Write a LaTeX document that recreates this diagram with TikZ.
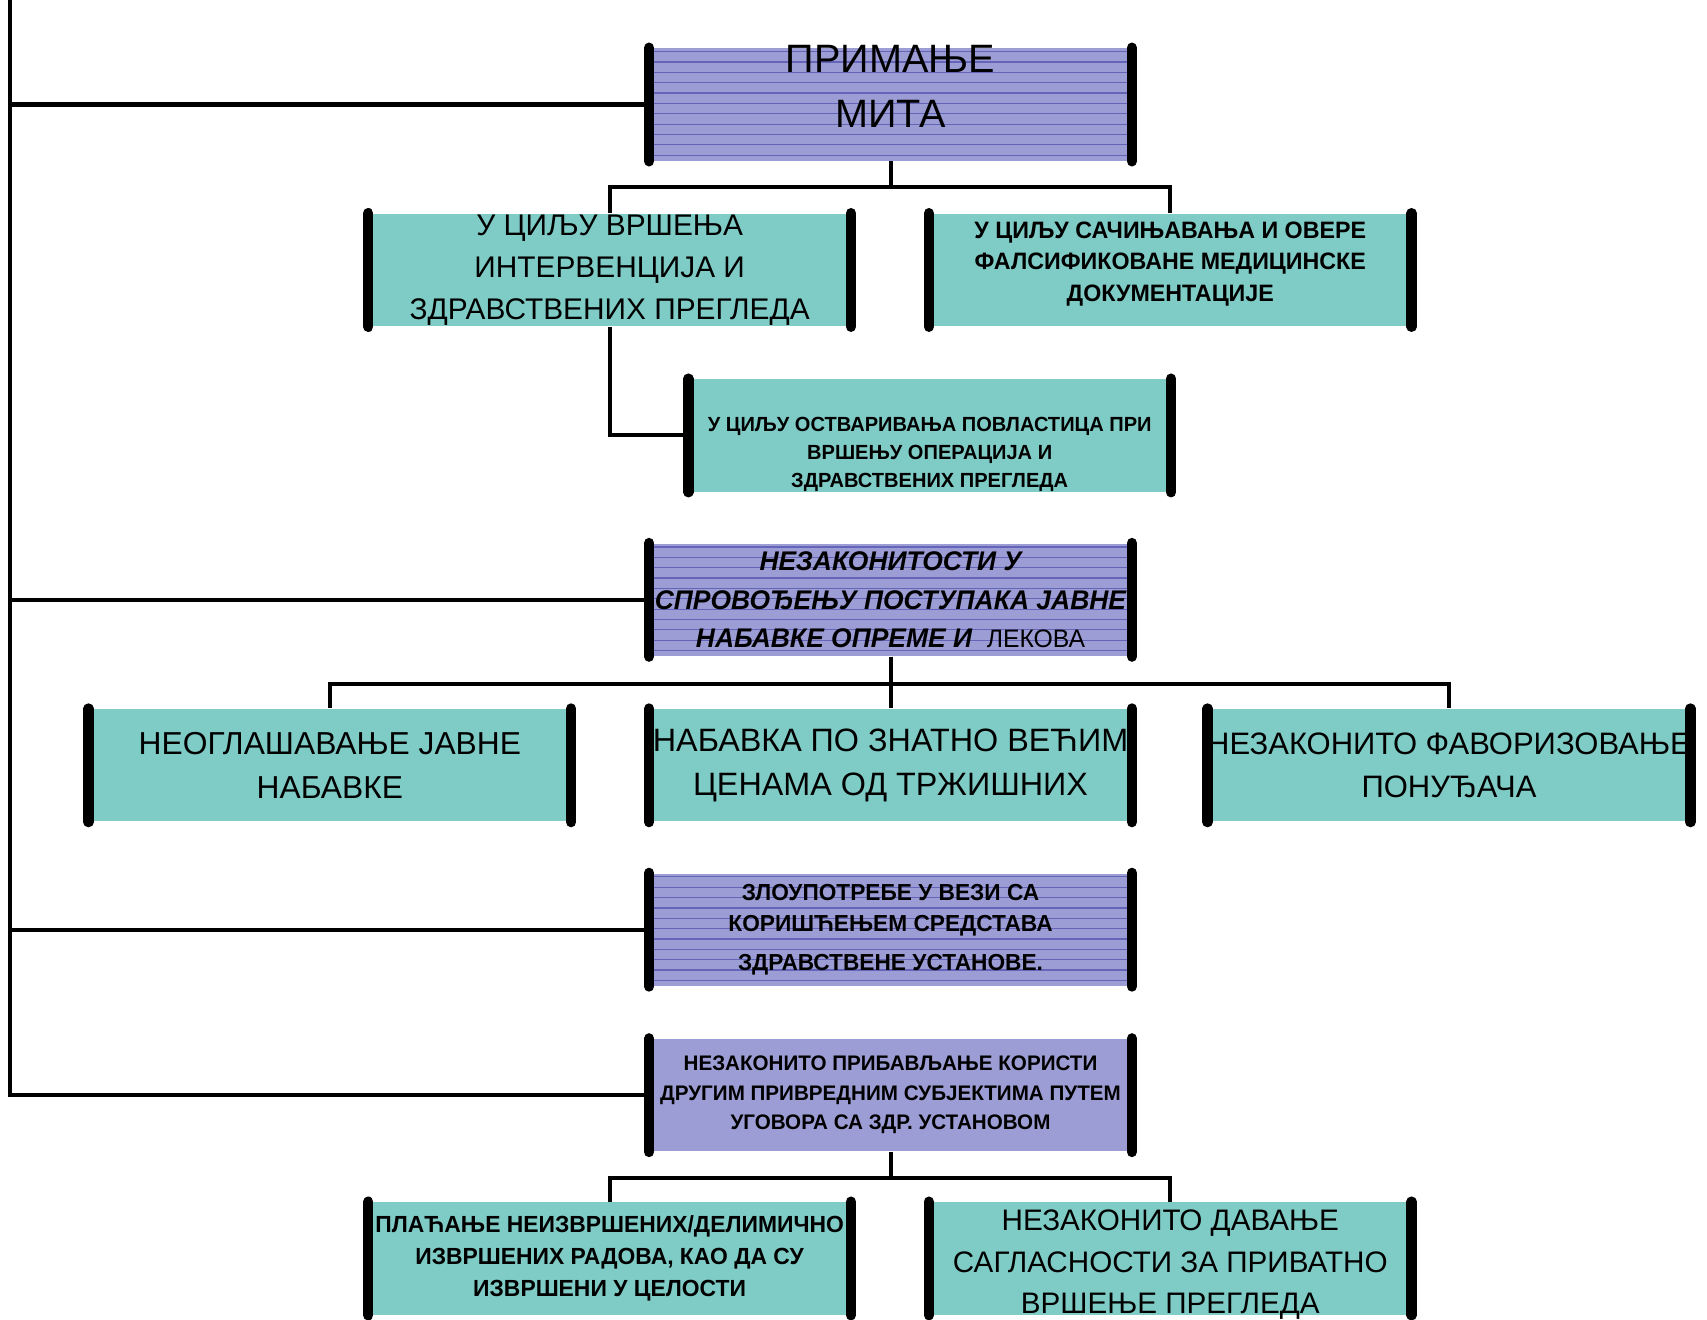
\documentclass[tikz,border=0pt]{standalone}
\usepackage{fontspec}
\setmainfont{Liberation Sans}
\newfontfamily\narrowbf[FakeStretch=0.98]{Liberation Sans}
\definecolor{tealbox}{HTML}{7FCCC7}
\definecolor{violetbox}{HTML}{9D9DD5}
\definecolor{ruling}{HTML}{6464B8}
\newcommand{\fsz}[2]{\fontsize{#1}{#2}\selectfont}
\newcommand{\lift}[2]{\raisebox{#1}[\height][\depth]{\begin{tabular}{@{}c@{}}#2\end{tabular}}}

\begin{document}
\begin{tikzpicture}[x=0.1mm, y=-0.1mm,
    box/.style={minimum width=44.2mm, minimum height=10.3mm, inner xsep=-6mm, inner ysep=-4mm, align=center},
    cyanbox/.style={box, fill=tealbox},
    lilac/.style={box, fill=violetbox},
    ruled/.style={lilac, path picture={
        \foreach \k in {0,...,10}
            \draw[ruling, line width=0.3pt] ([yshift=-0.3mm-\k*0.95mm]path picture bounding box.north west)
                -- ([yshift=-0.3mm-\k*0.95mm]path picture bounding box.north east);}},
    bar/.style={line width=0.95mm, line cap=round},
    link/.style={line width=1.05pt}]
    \useasboundingbox (0,0) rectangle (1568,1212);

    % upper group
    \node[ruled, font=\fsz{10.35}{14.2}] (mita) at (818,96) {\lift{1.4mm}{ПРИМАЊЕ\\МИТА}};
    \node[cyanbox, font=\fsz{7.8}{11}] (vrsenje) at (560,248)
        {У ЦИЉУ ВРШЕЊА\\ИНТЕРВЕНЦИЈА И\\ЗДРАВСТВЕНИХ ПРЕГЛЕДА};
    \node[cyanbox, font=\narrowbf\bfseries\fsz{6.2}{8.3}] (dokumentacija) at (1075,248)
        {\lift{0.6mm}{У ЦИЉУ САЧИЊАВАЊА И ОВЕРЕ\\ФАЛСИФИКОВАНЕ МЕДИЦИНСКЕ\\ДОКУМЕНТАЦИЈЕ}};
    \node[cyanbox, font=\narrowbf\bfseries\fsz{5.35}{7.4}] (povlastice) at (854,400)
        {\lift{-1.7mm}{У ЦИЉУ ОСТВАРИВАЊА ПОВЛАСТИЦА ПРИ\\ВРШЕЊУ ОПЕРАЦИЈА И\\ЗДРАВСТВЕНИХ ПРЕГЛЕДА}};

    % procurement
    \node[ruled, font=\narrowbf\bfseries\itshape\fsz{7.05}{10}] (nabavka) at (818,551)
        {НЕЗАКОНИТОСТИ У\\СПРОВОЂЕЊУ ПОСТУПАКА ЈАВНЕ\\НАБАВКЕ ОПРЕМЕ И~ {\upshape\mdseries\fsz{6.6}{10}ЛЕКОВА}};
    \node[cyanbox, font=\fsz{8.3}{11.4}] (oglasavanje) at (303,703) {НЕОГЛАШАВАЊЕ ЈАВНЕ\\НАБАВКЕ};
    \node[cyanbox, font=\fsz{8.45}{11.4}] (cene) at (818,703) {НАБАВКА ПО ЗНАТНО ВЕЋИМ\\ЦЕНАМА ОД ТРЖИШНИХ};
    \node[cyanbox, font=\fsz{8.1}{11}] (favorizovanje) at (1331,703) {НЕЗАКОНИТО ФАВОРИЗОВАЊЕ\\ПОНУЂАЧА};

    % funds and contracts
    \node[ruled, font=\narrowbf\bfseries\fsz{6.05}{8.25}] (zloupotreba) at (818,854)
        {ЗЛОУПОТРЕБЕ У ВЕЗИ СА\\КОРИШЋЕЊЕМ СРЕДСТАВА\\[2pt]ЗДРАВСТВЕНЕ УСТАНОВЕ.};
    \node[lilac, font=\narrowbf\bfseries\fsz{5.5}{7.7}] (korist) at (818,1006)
        {НЕЗАКОНИТО ПРИБАВЉАЊЕ КОРИСТИ\\ДРУГИМ ПРИВРЕДНИМ СУБЈЕКТИМА ПУТЕМ\\УГОВОРА СА ЗДР. УСТАНОВОМ};
    \node[cyanbox, font=\narrowbf\bfseries\fsz{6.1}{8.4}] (placanje) at (560,1156)
        {ПЛАЋАЊЕ НЕИЗВРШЕНИХ/ДЕЛИМИЧНО\\ИЗВРШЕНИХ РАДОВА, КАО ДА СУ\\ИЗВРШЕНИ У ЦЕЛОСТИ};
    \node[cyanbox, font=\fsz{7.75}{10.8}] (saglasnost) at (1075,1156)
        {\lift{-0.5mm}{НЕЗАКОНИТО ДАВАЊЕ\\САГЛАСНОСТИ ЗА ПРИВАТНО\\ВРШЕЊЕ ПРЕГЛЕДА}};

    % left rail
    \coordinate (rail) at (9,0);
    \draw[link] (rail) |- (korist.west);
    \foreach \n in {mita,nabavka,zloupotreba}
        \draw[link] (\n.west) -- (\n.west -| rail);

    % branches
    \draw[link] (mita.south) -- ++(0,24) -| (vrsenje.north);
    \draw[link] (mita.south) -- ++(0,24) -| (dokumentacija.north);
    \draw[link] (vrsenje.south) |- (povlastice.west);
    \foreach \n in {oglasavanje,cene,favorizovanje}
        \draw[link] (nabavka.south) -- ++(0,25) -| (\n.north);
    \foreach \n in {placanje,saglasnost}
        \draw[link] (korist.south) -- ++(0,24) -| (\n.north);

    % side bars
    \foreach \n in {mita,vrsenje,dokumentacija,povlastice,nabavka,oglasavanje,cene,
                    favorizovanje,zloupotreba,korist,placanje,saglasnost}{
        \draw[bar] (\n.north west) -- (\n.south west);
        \draw[bar] (\n.north east) -- (\n.south east);
    }
\end{tikzpicture}
\end{document}
